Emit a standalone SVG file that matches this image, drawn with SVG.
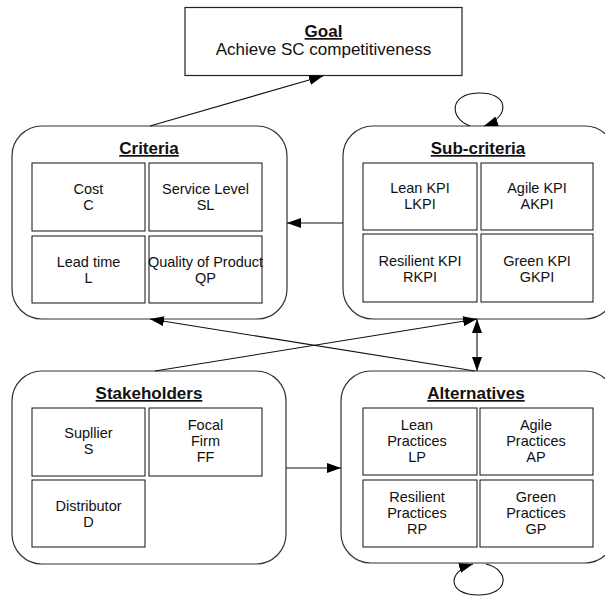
<svg xmlns="http://www.w3.org/2000/svg" width="605" height="597" viewBox="0 0 605 597">
<defs>
<marker id="ah" markerUnits="userSpaceOnUse" markerWidth="14" markerHeight="10" refX="14" refY="5" orient="auto-start-reverse" viewBox="0 0 14 10">
<path d="M0,0 L14,5 L0,10 Z" fill="#000"/>
</marker>
<style>
.box{fill:#fff;stroke:#333;stroke-width:1.2}
.cell{fill:#fff;stroke:#111;stroke-width:1}
.t{font-family:"Liberation Sans",Arial,sans-serif;font-size:14.5px;fill:#111;text-anchor:middle}
.h{font-family:"Liberation Sans",Arial,sans-serif;font-size:17px;font-weight:bold;fill:#111;text-anchor:middle;text-decoration:underline}
.g{font-family:"Liberation Sans",Arial,sans-serif;font-size:17px;fill:#111;text-anchor:middle}
.c{fill:none;stroke:#111;stroke-width:1.1}
</style>
</defs>
<rect width="605" height="597" fill="#fff"/>

<g id="goal">
<rect x="185" y="7.5" width="277" height="68" fill="#fff" stroke="#222" stroke-width="1.2"/>
<text class="h" x="323.5" y="37">Goal</text>
<text class="g" x="323.5" y="55">Achieve SC competitiveness</text>
</g>

<g id="criteria">
<rect class="box" x="12" y="126" width="275" height="193" rx="30" ry="30"/>
<text class="h" x="149" y="154">Criteria</text>
<rect class="cell" x="32" y="163" width="113" height="68"/>
<rect class="cell" x="149" y="163" width="113" height="68"/>
<rect class="cell" x="32" y="236" width="113" height="67"/>
<rect class="cell" x="149" y="236" width="113" height="67"/>
<text class="t" x="88.5" y="194">Cost</text>
<text class="t" x="88.5" y="210">C</text>
<text class="t" x="205.5" y="194">Service Level</text>
<text class="t" x="205.5" y="210">SL</text>
<text class="t" x="88.5" y="267">Lead time</text>
<text class="t" x="88.5" y="283">L</text>
<text class="t" x="205.5" y="267">Quality of Product</text>
<text class="t" x="205.5" y="283">QP</text>
</g>

<g id="subcriteria">
<rect class="box" x="343" y="126" width="272" height="193" rx="30" ry="30"/>
<text class="h" x="478" y="154">Sub-criteria</text>
<rect class="cell" x="363" y="163" width="114" height="67"/>
<rect class="cell" x="481" y="163" width="112" height="67"/>
<rect class="cell" x="363" y="234" width="114" height="68"/>
<rect class="cell" x="481" y="234" width="112" height="68"/>
<text class="t" x="420" y="193">Lean KPI</text>
<text class="t" x="420" y="209">LKPI</text>
<text class="t" x="537" y="193">Agile KPI</text>
<text class="t" x="537" y="209">AKPI</text>
<text class="t" x="420" y="266">Resilient KPI</text>
<text class="t" x="420" y="282">RKPI</text>
<text class="t" x="537" y="266">Green KPI</text>
<text class="t" x="537" y="282">GKPI</text>
</g>

<g id="stakeholders">
<rect class="box" x="12" y="371" width="274" height="193" rx="30" ry="30"/>
<text class="h" x="149" y="399">Stakeholders</text>
<rect class="cell" x="32" y="408" width="113" height="68"/>
<rect class="cell" x="149" y="408" width="113" height="68"/>
<rect class="cell" x="32" y="480" width="113" height="67"/>
<text class="t" x="88.5" y="438">Supllier</text>
<text class="t" x="88.5" y="454">S</text>
<text class="t" x="205.5" y="430">Focal</text>
<text class="t" x="205.5" y="446">Firm</text>
<text class="t" x="205.5" y="462">FF</text>
<text class="t" x="88.5" y="511">Distributor</text>
<text class="t" x="88.5" y="527">D</text>
</g>

<g id="alternatives">
<rect class="box" x="341" y="371" width="274" height="192" rx="30" ry="30"/>
<text class="h" x="476" y="399">Alternatives</text>
<rect class="cell" x="363" y="408" width="114" height="67"/>
<rect class="cell" x="480" y="408" width="113" height="67"/>
<rect class="cell" x="363" y="480" width="114" height="67"/>
<rect class="cell" x="480" y="480" width="113" height="67"/>
<text class="t" x="417" y="430">Lean</text>
<text class="t" x="417" y="446">Practices</text>
<text class="t" x="417" y="462">LP</text>
<text class="t" x="536" y="430">Agile</text>
<text class="t" x="536" y="446">Practices</text>
<text class="t" x="536" y="462">AP</text>
<text class="t" x="417" y="502">Resilient</text>
<text class="t" x="417" y="518">Practices</text>
<text class="t" x="417" y="534">RP</text>
<text class="t" x="536" y="502">Green</text>
<text class="t" x="536" y="518">Practices</text>
<text class="t" x="536" y="534">GP</text>
</g>

<g id="connectors">
<line class="c" x1="150" y1="126" x2="323" y2="76" marker-end="url(#ah)"/>
<line class="c" x1="343" y1="223" x2="287" y2="223" marker-end="url(#ah)"/>
<line class="c" x1="155" y1="371" x2="477" y2="319" marker-end="url(#ah)"/>
<line class="c" x1="475" y1="371" x2="150" y2="319" marker-end="url(#ah)"/>
<line class="c" x1="477" y1="319" x2="477" y2="371" marker-start="url(#ah)" marker-end="url(#ah)"/>
<line class="c" x1="286" y1="468" x2="341" y2="468" marker-end="url(#ah)"/>
<path class="c" d="M470,126 C450,119 448,94 478,93 C508,92 512,116 484,126" marker-end="url(#ah)"/>
<path class="c" d="M486,564 C510,570 510,595 478,595 C448,595 446,572 473,564" marker-end="url(#ah)"/>
</g>
</svg>
